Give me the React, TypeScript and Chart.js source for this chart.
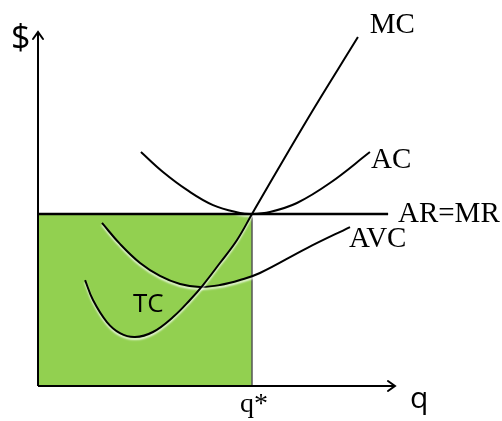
import React, { useEffect, useRef } from "react";
import { Chart, registerables } from "chart.js";

Chart.register(...registerables);

// Economic units: quantity q on x, $ on y
const Q_STAR = 10;
const PRICE = 10; // AR = MR
const Q_AXIS_END = 16.68;
const P_AXIS_END = 20.58;
const ARMR_END = 16.36;

const MC_Q = [2.2, 2.57, 3.22, 3.83, 4.53, 5.37, 6.31, 7.1, 7.71, 8.5, 9.3, 10.0, 12.57, 14.95];
const MC_P = [6.16, 5.0, 3.72, 3.08, 2.85, 3.14, 4.01, 5.0, 5.87, 7.15, 8.49, 10.0, 15.47, 20.29];

const AC_Q = [4.81, 5.84, 6.96, 8.18, 9.44, 9.95, 10.84, 12.1, 13.64, 15.51];
const AC_P = [13.6, 12.44, 11.4, 10.52, 10.06, 10.0, 10.12, 10.64, 11.8, 13.6];

const AVC_Q = [2.99, 3.83, 4.77, 5.7, 6.64, 7.57, 8.5, 9.44, 10.37, 12.57, 14.58];
const AVC_P = [9.48, 8.26, 7.15, 6.4, 5.93, 5.76, 5.87, 6.16, 6.57, 8.02, 9.24];

// labels: text, q, p, font
const LABELS = ["MC", "AC", "AR=MR", "AVC", "q*", "q", "$", "TC"];
const LABEL_Q = [15.5, 15.56, 16.82, 14.53, 9.44, 17.38, -1.26, 4.44];
const LABEL_P = [20.52, 12.67, 9.53, 8.08, -1.51, -1.3, 19.6, 4.3];
const LABEL_FONT = [
  '29px "Liberation Serif"',
  '29px "Liberation Serif"',
  '29px "Liberation Serif"',
  '29px "Liberation Serif"',
  '28px "Liberation Serif"',
  '30px "Open Sans"',
  '34px "Open Sans"',
  '26px "Open Sans"',
];

const toPts = (xs: number[], ys: number[]) => xs.map((x, i) => ({ x, y: ys[i] }));

const shadowPlugin = {
  id: "curveShadow",
  beforeDatasetDraw(chart: any, args: any) {
    const ds = chart.data.datasets[args.index];
    if (!ds.glow) return;
    const ctx = chart.ctx;
    ctx.save();
    ctx.shadowColor = "rgba(255,255,255,0.85)";
    ctx.shadowBlur = 2;
    ctx.shadowOffsetY = 2;
  },
  afterDatasetDraw(chart: any, args: any) {
    const ds = chart.data.datasets[args.index];
    if (!ds.glow) return;
    chart.ctx.restore();
  },
};

const annotations = {
  id: "annotations",
  afterDatasetsDraw(chart: any) {
    const { ctx, scales } = chart;
    const xs = scales.x;
    const ys = scales.y;
    ctx.save();
    ctx.strokeStyle = "#000";
    ctx.lineWidth = 2;
    ctx.lineCap = "round";
    const tx = xs.getPixelForValue(0);
    const ty = ys.getPixelForValue(P_AXIS_END);
    ctx.beginPath();
    ctx.moveTo(tx - 5, ty + 7);
    ctx.lineTo(tx, ty);
    ctx.lineTo(tx + 5, ty + 7);
    ctx.stroke();
    const rx = xs.getPixelForValue(Q_AXIS_END);
    const ry = ys.getPixelForValue(0);
    ctx.beginPath();
    ctx.moveTo(rx - 7, ry - 5);
    ctx.lineTo(rx, ry);
    ctx.lineTo(rx - 7, ry + 5);
    ctx.stroke();
    ctx.fillStyle = "#000";
    ctx.textBaseline = "alphabetic";
    ctx.textAlign = "left";
    LABELS.forEach((t, i) => {
      ctx.font = LABEL_FONT[i];
      ctx.fillText(t, xs.getPixelForValue(LABEL_Q[i]), ys.getPixelForValue(LABEL_P[i]));
    });
    ctx.restore();
  },
};

export default function App() {
  const ref = useRef<HTMLCanvasElement>(null);
  useEffect(() => {
    if (!ref.current) return;
    const curve = (data: any) => ({
      data,
      showLine: true,
      borderColor: "#000",
      borderWidth: 2,
      pointRadius: 0,
      tension: 0.4,
      order: 5,
      clip: false,
      glow: true,
    });
    const chart = new Chart(ref.current, {
      type: "scatter",
      data: {
        datasets: [
          {
            data: [
              { x: 0, y: PRICE },
              { x: Q_STAR, y: PRICE },
            ],
            showLine: true,
            borderWidth: 0,
            borderColor: "rgba(0,0,0,0)",
            backgroundColor: "#92d050",
            fill: "origin",
            pointRadius: 0,
            order: 20,
          } as any,
          {
            data: [
              { x: Q_STAR, y: 0 },
              { x: Q_STAR, y: PRICE },
            ],
            showLine: true,
            borderColor: "#555",
            borderWidth: 1.5,
            pointRadius: 0,
            order: 19,
          },
          curve(toPts(MC_Q, MC_P)),
          curve(toPts(AC_Q, AC_P)),
          curve(toPts(AVC_Q, AVC_P)),
          {
            data: [
              { x: 0, y: PRICE },
              { x: ARMR_END, y: PRICE },
            ],
            showLine: true,
            borderColor: "#000",
            borderWidth: 2.5,
            pointRadius: 0,
            order: 4,
          },
          {
            data: [
              { x: 0, y: 0 },
              { x: 0, y: P_AXIS_END },
            ],
            showLine: true,
            borderColor: "#000",
            borderWidth: 2,
            pointRadius: 0,
            order: 3,
            clip: false,
          } as any,
          {
            data: [
              { x: 0, y: 0 },
              { x: Q_AXIS_END, y: 0 },
            ],
            showLine: true,
            borderColor: "#000",
            borderWidth: 2,
            pointRadius: 0,
            order: 3,
            clip: false,
          } as any,
        ] as any,
      },
      options: {
        animation: false,
        responsive: false,
        layout: { padding: 0 },
        plugins: { legend: { display: false }, tooltip: { enabled: false } },
        scales: {
          x: { type: "linear", min: -1.776, max: 21.682, display: false },
          y: { type: "linear", min: -2.035, max: 22.442, display: false },
        },
      },
      plugins: [shadowPlugin, annotations],
    });
    return () => chart.destroy();
  }, []);
  return (
    <div style={{ position: "absolute", left: 0, top: 0, width: 502, height: 421, background: "#fff" }}>
      <canvas ref={ref} width={502} height={421} />
    </div>
  );
}
